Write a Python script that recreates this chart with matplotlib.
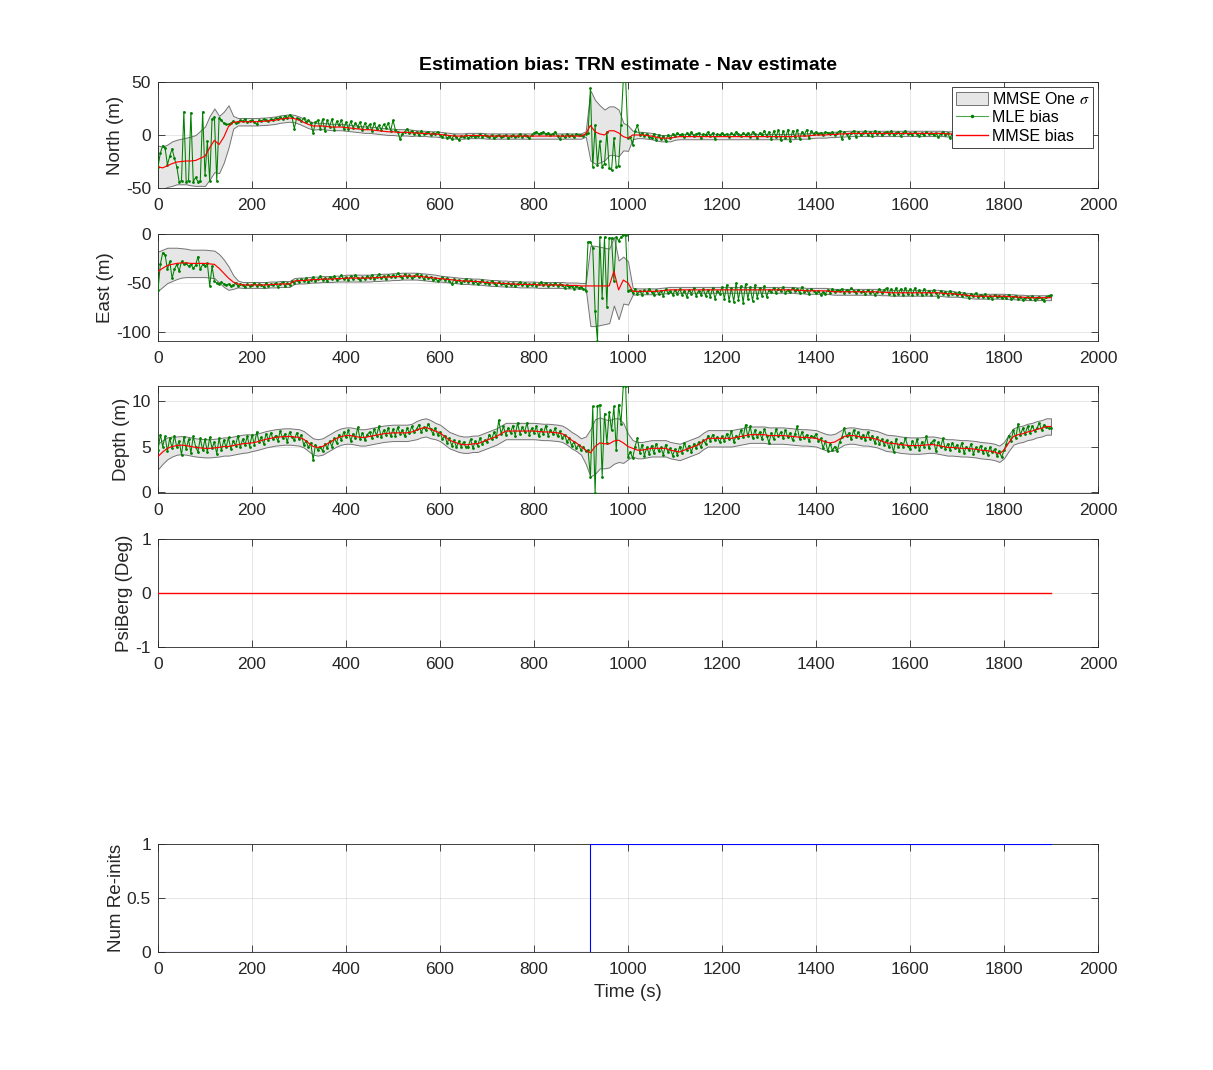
import numpy as np
import matplotlib
matplotlib.use("Agg")
import matplotlib.pyplot as plt
from matplotlib.lines import Line2D
from matplotlib.patches import Patch

plt.rcParams['font.family'] = ['Liberation Sans', 'DejaVu Sans']
plt.rcParams['axes.unicode_minus'] = False
plt.rcParams['mathtext.fontset'] = 'stix'

# ---------------- data ----------------
t_mle = np.arange(0, 1901, 5)    # MLE samples every 5 s
t_est = np.arange(0, 1901, 10)   # MMSE / sigma samples every 10 s

north_mle = [
    -30, -17, -10, -12, -28, -20, -13, -22, -30, -44,
    -43, 22, -44, -43, 21, -44, -40, -44, -43, 22,
    -38, -6, -43, 15, 17, -43, 16, 14, 11, 10,
    10, 11, 13, 11, 12, 14, 13, 15, 12, 13,
    14, 12, 10, 14, 13, 15, 14, 13, 15, 14,
    16, 15, 17, 15, 18, 16, 19, 17, 6, 16,
    15, 13, 16, 12, 14, 11, 2, 12, 14, 6,
    15, 4, 14, 8, 15, 5, 13, 9, 14, 6,
    12, 6, 13, 7, 11, 8, 12, 5, 11, 7,
    10, 4, 11, 6, 9, 5, 10, 7, 11, 4,
    14, 5, 3, -4, 1, 3, 6, 2, 4, 1,
    3, 0, 4, 1, 2, 3, 0, 2, 1, 3,
    0, -2, 1, -3, -1, -4, 0, -2, -5, -1,
    -2, 0, -3, -1, 0, -2, -1, 1, -2, 0,
    -1, -2, 0, -3, -1, 0, -2, -1, 0, -3,
    -1, 0, -2, -1, 1, -2, 0, -1, -3, 0,
    2, 3, 1, 2, 3, 1, 2, 0, 1, 3,
    -1, -4, 0, -2, 1, -1, 0, -2, 1, 0,
    0, -1, 1, 2, 44, -30, 9, -28, -6, -30,
    -27, 3, -31, -33, -3, -30, -29, 9, 52, 52,
    -3, -2, -9, 4, 9, 0, 2, -1, 1, -2,
    -3, 1, -5, 0, -4, -1, -6, 0, -3, 1,
    -1, 2, 0, 1, -2, 2, 0, 3, -1, 1,
    2, -3, 1, 0, 3, -1, 2, -4, 1, 0,
    2, 0, 1, -2, 2, 0, 3, 1, -1, 2,
    0, 2, -2, 3, 1, -3, 2, 0, 4, -1,
    3, -4, 4, -2, 5, -5, 4, -3, 5, -6,
    4, -2, 5, -4, 3, 0, 5, -3, 4, 1,
    3, 1, 2, 0, 3, 2, 1, 3, 0, 2,
    4, -4, 3, 1, -3, 2, 4, -2, 3, 0,
    2, 4, 0, 3, -1, 4, 1, 3, 0, 2,
    3, 1, 4, 0, 2, 3, -1, 2, 4, 1,
    2, 0, 3, 1, -1, 2, 0, 3, 1, 2,
    0, 2, -2, 1, 3, 0, 2, -3, 1, 0,
    -1, 1, -3, 0, 2, -2, 1, -1, 0, -2,
    0, -3, 1, -1, -4, 0, -2, 1, -1, -3,
    -1, 0, -2, 1, -1, -3, 0, -2, 1, -1,
    0, -2, -1, 1, -3, 0, -1, -2, 0, -1,
    -1,
]

north_mmse = [
    -30, -31, -29, -27, -25.5, -25, -24.5, -24.5, -24, -22,
    -20, -12, -5, -9, -2, 8, 12, 12.5, 12.5, 12.5,
    12.5, 12.5, 12.8, 13, 13.5, 14, 15, 15.5, 16, 15.5,
    14, 12, 10, 8.5, 8.5, 8.5, 8, 7.5, 7.5, 7.5,
    7, 6.5, 6, 5.5, 5, 5, 4.5, 4, 3.5, 3,
    3, 2.5, 2.5, 2.5, 2, 2, 1.5, 1.5, 1, 1,
    0.5, 0, -0.5, -1, -1, -1, -0.5, -0.5, -0.5, -0.5,
    -1, -1, -1, -1, -1, -1, -1, -1, -1, -1,
    -1, -1, -1, -1, -1, -1, -1, -1, -1, -1,
    -1, 1, 9, 3, 1, 0, 4, 4, 2, -1.5,
    -3, 0, 0, 0, -0.5, -1, -2, -3, -3, -3,
    -2, -1.5, -1.5, -1.5, -1.5, -1.5, -1.5, -1.5, -1.5, -1.5,
    -1.5, -1.5, -1.5, -1.5, -1.5, -1.5, -1.5, -1.5, -1.5, -1.5,
    -1.5, -1.5, -1.5, -1.5, -1.5, -1.5, -1, -1, -1, -0.5,
    0, 0, 0, 0.5, 0.5, 1, 1, 1.5, 1.5, 1.5,
    1.5, 1.5, 1.5, 1.5, 1.5, 1.5, 1.5, 1.5, 1.5, 1.5,
    1.5, 1.5, 1.5, 1.5, 1.5, 1.5, 1.5, 1.5, 1, 1,
    0.5, 0.5, 0, 0, 0, -0.5, -0.5, -0.5, -1, -1,
    -1, -1, -1, -1, -1, -1, -1, -1, -1, -1,
    -1,
]

north_sigma = [
    20, 20, 20, 21, 21, 21.5, 22, 23, 24, 26,
    28, 30, 30, 27, 24, 20, 6, 3.5, 3.5, 3.5,
    3.5, 3.5, 3.5, 3.5, 3.5, 3.5, 3.5, 3.5, 3.5, 3.5,
    3.5, 3.5, 3.5, 3.5, 3, 3, 3, 3, 3, 3,
    3, 3, 3, 3, 3, 3, 3, 3, 3, 3,
    3, 3, 3, 3, 3, 2.5, 2.5, 2.5, 2.5, 2.5,
    2.5, 2.5, 2.5, 2.5, 2.5, 2.5, 2.5, 2.5, 2.5, 2.5,
    2.5, 2.5, 2.5, 2.5, 2.5, 2.5, 2.5, 2.5, 2.5, 2.5,
    2.5, 2.5, 2.5, 2.5, 2.5, 2.5, 2.5, 2.5, 2.5, 2.5,
    2.5, 2.5, 33, 30, 27, 24, 23, 23, 22, 13,
    12, 4, 3, 3, 3, 3, 3, 3, 3, 3,
    2.5, 2.5, 2.5, 2.5, 2.5, 2.5, 2.5, 2.5, 2.5, 2.5,
    2.5, 2.5, 2.5, 2.5, 2.5, 2.5, 2.5, 2.5, 2.5, 2.5,
    2.5, 2.5, 2.5, 2.5, 2.5, 2.5, 2.5, 2.5, 2.5, 2.5,
    2.5, 2.5, 2.5, 2.5, 2.5, 2.5, 2.5, 2.5, 2.5, 2.5,
    2.5, 2.5, 2.5, 2.5, 2.5, 2.5, 2.5, 2.5, 2.5, 2.5,
    2.5, 2.5, 2.5, 2.5, 2.5, 2.5, 2.5, 2.5, 2.5, 2.5,
    2.5, 2.5, 2.5, 2.5, 2.5, 2.5, 2.5, 2.5, 2.5, 2.5,
    2.5, 2.5, 2.5, 2.5, 2.5, 2.5, 2.5, 2.5, 2.5, 2.5,
    2.5,
]

east_mle = [
    -57, -31, -19, -21, -36, -28, -45, -36, -31, -38,
    -28, -31, -30, -33, -31, -35, -32, -23, -36, -31,
    -33, -30, -53, -33, -48, -50, -51, -49, -51, -52,
    -51, -53, -52, -50, -53, -51, -52, -54, -51, -53,
    -52, -50, -53, -51, -52, -54, -50, -53, -51, -52,
    -50, -54, -51, -49, -53, -50, -52, -48, -50, -47,
    -49, -46, -48, -45, -49, -47, -44, -48, -46, -43,
    -47, -45, -48, -44, -46, -43, -47, -45, -42, -46,
    -44, -47, -43, -46, -42, -45, -47, -44, -46, -43,
    -45, -42, -46, -44, -41, -45, -43, -46, -42, -44,
    -42, -44, -40, -43, -45, -41, -44, -42, -45, -43,
    -41, -44, -42, -46, -43, -45, -44, -47, -45, -48,
    -46, -44, -47, -45, -48, -51, -46, -49, -47, -50,
    -48, -46, -49, -47, -50, -48, -51, -49, -47, -50,
    -49, -51, -48, -50, -52, -49, -51, -50, -53, -50,
    -52, -50, -53, -51, -49, -52, -50, -53, -51, -52,
    -50, -53, -51, -49, -52, -50, -53, -51, -52, -50,
    -53, -51, -52, -55, -52, -54, -53, -56, -53, -55,
    -54, -56, -58, -8, -8, -14, -79, -109, -3, -65,
    -3, -74, -4, -4, -48, -3, -7, -3, -1, -1,
    -58, -57, -60, -56, -61, -58, -62, -57, -60, -56,
    -59, -62, -57, -61, -58, -63, -56, -60, -58, -62,
    -57, -61, -56, -62, -58, -64, -57, -61, -55, -63,
    -58, -62, -56, -63, -57, -64, -55, -66, -58, -61,
    -54, -66, -52, -68, -55, -69, -50, -67, -53, -70,
    -51, -66, -54, -68, -52, -65, -55, -63, -53, -64,
    -57, -59, -55, -60, -56, -58, -54, -60, -57, -59,
    -55, -58, -56, -60, -54, -59, -57, -61, -56, -58,
    -60, -58, -62, -59, -61, -57, -60, -56, -59, -57,
    -58, -56, -60, -57, -59, -55, -58, -60, -57, -59,
    -58, -61, -57, -60, -58, -62, -59, -56, -60, -57,
    -55, -61, -56, -62, -55, -61, -56, -62, -55, -61,
    -56, -62, -55, -61, -57, -62, -56, -61, -58, -62,
    -57, -60, -64, -58, -61, -59, -62, -58, -61, -60,
    -62, -59, -63, -60, -62, -65, -61, -63, -60, -64,
    -62, -64, -61, -65, -63, -66, -62, -64, -63, -65,
    -63, -65, -62, -66, -64, -63, -66, -64, -67, -65,
    -64, -66, -63, -67, -65, -64, -66, -68, -64, -63,
    -62,
]

east_mmse = [
    -38, -35, -32, -31, -30, -29.5, -29.5, -30, -30, -30,
    -30, -30.5, -31, -35, -40, -45, -49, -51, -52, -52,
    -52, -52, -52, -52, -51.5, -51.5, -51, -51, -51, -48,
    -47.5, -47.5, -47, -46.5, -46.5, -46, -46, -46, -45.5, -45.5,
    -45, -45, -45, -45, -45, -45, -44.5, -44.5, -44, -44,
    -43.5, -43.5, -43, -43, -43, -43, -43.5, -44, -44.5, -45,
    -45.5, -46, -46.5, -47, -47.5, -48, -48, -48.5, -48.5, -49,
    -49.5, -50, -50, -50.5, -50.5, -51, -51, -51.5, -51.5, -51.5,
    -51.5, -52, -52, -52, -52, -52, -52, -52.5, -52.5, -52.5,
    -53, -53, -53, -53, -53, -53, -53, -38, -57, -47,
    -50, -58.5, -58.5, -58.5, -58.5, -58.5, -58.5, -58, -57.5, -57,
    -57, -57, -57, -57, -57, -57, -57, -57, -57, -57,
    -57, -57, -57, -57, -57, -57, -57, -57, -57, -57,
    -57, -57, -57, -57, -57, -57, -57.5, -57.5, -58, -58,
    -58, -58, -58, -58.5, -59, -59, -59, -59, -59, -59,
    -59, -59, -59, -59, -59.5, -59.5, -60, -60, -60, -60,
    -60, -60, -60, -60, -60, -60, -60, -60.5, -61, -61,
    -61.5, -62, -62.5, -63, -63.5, -63.5, -63.5, -63.5, -63.5, -63.5,
    -63.5, -64, -64, -64.5, -64.5, -65, -65, -65, -65, -65,
    -65,
]

east_sigma = [
    20, 19, 18, 17, 16, 15, 14.5, 14, 14, 14,
    14, 14, 14, 14.5, 14, 12, 7, 3.5, 3, 3,
    3, 3, 3, 3, 3, 3, 3, 3, 3, 3,
    3, 3, 3, 3, 3, 3, 3, 3, 3, 3,
    3.5, 3.5, 3.5, 3.5, 3.5, 3.5, 3.5, 3.5, 3.5, 3.5,
    3.5, 3.5, 3.5, 3.5, 3.5, 3.5, 3.5, 3.5, 3.5, 3.5,
    3, 3, 3, 3, 3, 3, 3, 3, 3, 3,
    3, 3, 3, 3, 3, 3, 3, 3, 3, 3,
    3, 3, 3, 3, 3, 3, 3, 3, 3, 3,
    3, 3, 41, 41, 40, 39, 38, 35, 30, 24,
    22, 3.5, 3, 3, 3, 3, 3, 3, 3, 3,
    3, 3, 3, 3, 3, 3, 3, 3, 3, 3,
    3, 3, 3, 3, 3, 3, 3, 3, 3, 3,
    3, 3, 3, 3, 3, 3, 3, 3, 3, 3,
    3, 3, 3, 3, 3, 3, 3, 3, 3, 3,
    3, 3, 3, 3, 3, 3, 3, 3, 3, 3,
    3, 3, 3, 3, 3, 3, 3, 3, 3, 3,
    2.5, 2.5, 2.5, 2.5, 2.5, 2.5, 2.5, 2.5, 2.5, 2.5,
    2.5, 2.5, 2.5, 2.5, 2.5, 2.5, 2.5, 2.5, 2.5, 2.5,
    2.5,
]

depth_mle = [
    4.6, 6.3, 5.0, 6.1, 4.5, 5.9, 4.8, 6.2, 4.9, 5.6,
    4.1, 6.0, 4.7, 5.8, 4.3, 6.1, 5.0, 4.4, 5.9, 4.6,
    5.8, 4.4, 6.0, 4.8, 5.5, 4.2, 5.9, 4.6, 5.7, 4.9,
    6.0, 4.7, 5.6, 5.1, 6.2, 4.9, 5.8, 5.2, 6.1, 5.0,
    6.3, 5.2, 6.6, 5.5, 6.0, 5.3, 6.4, 5.7, 6.5, 5.8,
    6.2, 5.6, 6.7, 5.9, 6.4, 5.5, 6.6, 6.0, 5.7, 6.5,
    5.8, 6.3, 5.2, 5.6, 4.9, 5.4, 3.5, 5.2, 4.6, 5.0,
    4.5, 5.3, 4.8, 5.6, 5.0, 5.9, 5.4, 6.3, 5.7, 6.6,
    6.0, 6.8, 5.6, 6.4, 5.9, 7.1, 5.8, 6.5, 5.7, 6.3,
    6.6, 5.9, 6.9, 6.2, 7.2, 6.0, 6.8, 6.3, 7.0, 6.1,
    6.9, 6.2, 7.1, 6.4, 6.8, 6.1, 7.0, 6.5, 7.2, 6.6,
    6.9, 7.4, 6.6, 7.1, 6.8, 7.5, 6.9, 6.4, 7.0, 6.3,
    6.6, 5.8, 6.2, 5.4, 5.9, 5.1, 5.7, 4.9, 5.6, 5.0,
    5.5, 4.9, 5.0, 5.8, 4.8, 5.6, 5.1, 5.9, 5.3, 5.7,
    5.5, 6.3, 5.8, 6.6, 6.0, 7.9, 6.4, 7.2, 6.3, 7.0,
    6.5, 7.3, 6.2, 7.6, 6.4, 7.1, 6.6, 7.6, 6.3, 7.0,
    6.5, 7.2, 6.1, 6.9, 6.4, 7.3, 6.2, 6.8, 6.4, 7.0,
    6.1, 6.7, 5.9, 6.3, 5.5, 5.9, 5.1, 5.5, 4.8, 5.2,
    4.6, 5.0, 4.5, 4.6, 1.7, 9.4, -0.1, 9.4, 9.6, 1.7,
    8.6, 5.4, 8.8, 6.8, 9.4, 4.6, 9.6, 7.5, 11.7, 11.7,
    3.9, 4.4, 3.7, 5.0, 5.9, 4.3, 5.2, 4.0, 4.9, 4.2,
    5.1, 4.3, 5.3, 4.5, 4.9, 4.1, 5.2, 4.4, 4.8, 4.0,
    4.7, 4.1, 5.0, 4.3, 5.4, 4.6, 5.1, 4.4, 5.3, 4.8,
    5.5, 4.9, 5.7, 5.3, 6.2, 5.6, 6.3, 5.7, 6.0, 5.5,
    6.1, 5.6, 6.4, 5.8, 6.7, 5.5, 6.2, 5.9, 6.8, 6.0,
    7.4, 6.1, 7.2, 5.9, 6.8, 6.0, 6.6, 5.8, 6.9, 6.2,
    5.4, 6.5, 5.8, 6.9, 6.1, 6.6, 5.9, 6.8, 6.0, 6.5,
    5.7, 6.4, 7.2, 5.8, 6.6, 5.9, 6.3, 5.6, 6.2, 6.0,
    6.4, 5.6, 5.9, 4.8, 5.6, 4.5, 5.3, 4.6, 5.0, 4.5,
    5.5, 6.0, 7.0, 6.1, 6.5, 5.8, 6.8, 6.0, 6.6, 5.9,
    6.3, 5.7, 6.6, 5.8, 6.2, 5.4, 6.0, 5.3, 5.8, 5.2,
    5.7, 4.9, 5.5, 4.4, 5.8, 4.9, 5.4, 5.0, 5.9, 5.1,
    4.7, 5.6, 4.9, 5.8, 4.6, 5.5, 5.0, 6.1, 4.8, 5.4,
    5.7, 4.5, 5.5, 4.9, 5.9, 4.7, 5.3, 4.6, 5.4, 4.8,
    5.2, 4.5, 5.4, 4.3, 5.0, 4.6, 5.3, 4.2, 4.9, 4.5,
    5.1, 4.3, 4.8, 4.1, 4.9, 4.4, 4.7, 4.0, 4.5, 3.8,
    4.6, 5.3, 6.2, 5.6, 6.8, 5.9, 7.5, 6.3, 7.0, 6.4,
    7.2, 6.5, 7.3, 6.7, 7.0, 7.6, 6.8, 7.4, 7.1, 7.0,
    7.0,
]

depth_mmse = [
    3.9, 4.4, 4.8, 5.0, 5.1, 5.15, 5.1, 5.0, 4.9, 4.85,
    4.8, 4.8, 4.85, 4.9, 5.0, 5.0, 5.1, 5.2, 5.3, 5.35,
    5.4, 5.5, 5.65, 5.8, 5.9, 6.0, 6.05, 6.1, 6.1, 6.05,
    6.0, 5.8, 5.4, 5.0, 4.9, 5.0, 5.3, 5.6, 5.9, 6.1,
    6.2, 6.2, 6.1, 6.0, 6.0, 6.1, 6.2, 6.3, 6.4, 6.45,
    6.5, 6.5, 6.5, 6.5, 6.6, 6.8, 7.0, 7.1, 6.9, 6.7,
    6.5, 6.1, 5.7, 5.5, 5.3, 5.2, 5.2, 5.3, 5.3, 5.5,
    5.7, 5.9, 6.1, 6.4, 6.7, 6.7, 6.7, 6.7, 6.7, 6.7,
    6.7, 6.65, 6.6, 6.6, 6.55, 6.5, 6.4, 6.1, 5.7, 5.4,
    5.0, 4.6, 4.3, 5.0, 5.4, 5.3, 5.3, 5.6, 5.7, 5.4,
    5.0, 4.8, 4.6, 4.6, 4.7, 4.8, 4.8, 4.8, 4.8, 4.6,
    4.5, 4.4, 4.6, 4.8, 5.0, 5.2, 5.6, 5.9, 5.9, 5.9,
    5.9, 5.9, 5.9, 6.0, 6.1, 6.2, 6.3, 6.3, 6.3, 6.3,
    6.2, 6.2, 6.2, 6.2, 6.15, 6.1, 6.05, 6.0, 6.0, 5.95,
    5.9, 5.7, 5.5, 5.4, 5.5, 5.8, 6.1, 6.2, 6.2, 6.1,
    6.0, 6.0, 5.9, 5.8, 5.6, 5.4, 5.35, 5.3, 5.2, 5.15,
    5.1, 5.1, 5.1, 5.15, 5.2, 5.2, 5.1, 5.0, 4.9, 4.9,
    4.85, 4.8, 4.8, 4.75, 4.7, 4.6, 4.55, 4.5, 4.4, 4.2,
    4.6, 5.4, 6.1, 6.3, 6.4, 6.6, 6.7, 6.9, 7.0, 7.2,
    7.2,
]

depth_sigma = [
    1.4, 1.3, 1.2, 1.1, 1.0, 1.0, 1.0, 1.0, 1.0, 1.0,
    1.0, 1.0, 1.0, 1.0, 1.0, 1.0, 1.0, 1.0, 1.0, 1.0,
    0.9, 0.9, 0.9, 0.9, 0.9, 0.9, 0.9, 0.9, 0.9, 0.9,
    0.9, 0.9, 0.9, 0.9, 0.9, 0.9, 0.9, 0.9, 0.9, 0.9,
    0.9, 0.9, 0.9, 0.9, 0.9, 0.9, 0.9, 0.9, 0.9, 0.9,
    0.9, 0.9, 0.9, 0.9, 0.9, 1.0, 1.0, 1.0, 1.0, 0.9,
    0.9, 0.9, 0.9, 0.9, 0.9, 0.9, 0.9, 0.9, 0.9, 0.9,
    0.9, 0.9, 0.9, 0.9, 0.9, 0.9, 0.9, 0.9, 0.9, 0.9,
    0.9, 0.9, 0.9, 0.9, 0.9, 0.9, 0.9, 0.9, 0.9, 0.9,
    0.9, 1.5, 2.6, 3.0, 2.8, 2.7, 2.6, 2.5, 2.4, 2.2,
    1.4, 0.9, 0.9, 0.9, 0.9, 0.9, 0.9, 0.9, 0.9, 0.9,
    0.9, 0.9, 0.9, 0.9, 0.9, 0.9, 0.9, 0.9, 0.9, 0.9,
    0.9, 0.9, 0.9, 0.9, 0.9, 0.9, 0.9, 0.9, 0.9, 0.9,
    0.9, 0.9, 0.9, 0.9, 0.9, 0.9, 0.9, 0.9, 0.9, 0.9,
    0.9, 0.9, 0.9, 0.9, 0.9, 0.9, 0.9, 0.9, 0.9, 0.9,
    0.9, 0.9, 0.9, 0.9, 0.9, 0.9, 0.9, 0.9, 0.9, 0.9,
    0.9, 0.9, 0.9, 0.9, 0.9, 0.9, 0.9, 0.9, 0.9, 0.9,
    0.9, 0.9, 0.9, 0.9, 0.9, 0.9, 0.9, 0.9, 0.9, 0.9,
    0.9, 0.9, 0.9, 0.9, 0.9, 0.9, 0.9, 0.9, 0.9, 0.9,
    0.9,
]

psi_t = [0, 1900]
psi_mmse = [0, 0]

reinit_t = [0, 919, 1900]
reinit_n = [0, 1, 1]

panel_labels = ["North (m)", "East (m)", "Depth (m)", "PsiBerg (Deg)", "Num Re-inits"]
legend_labels = ["MMSE One $\\sigma$", "MLE bias", "MMSE bias"]
title_text = "Estimation bias: TRN estimate - Nav estimate"

# ---------------- style ----------------
C_AX = (0.15, 0.15, 0.15)
C_GREEN = (0.0, 0.5, 0.0)
C_RED = (1.0, 0.0, 0.0)
C_BAND = (0.9, 0.9, 0.9)
C_BANDEDGE = (0.45, 0.45, 0.45)
FS = 12.5
FS_LAB = 13.5

fig = plt.figure(figsize=(12.13, 10.70), dpi=100)
W_PX, H_PX = 1213.0, 1070.0
L, R = 158, 1098


def add_ax(top, bot):
    return fig.add_axes([L / W_PX, 1 - bot / H_PX, (R - L) / W_PX, (bot - top) / H_PX])


def style(ax):
    ax.set_xlim(0, 2000)
    ax.set_xticks(np.arange(0, 2001, 200))
    ax.grid(True, color=C_AX, alpha=0.13, lw=0.6)
    ax.set_axisbelow(True)
    ax.tick_params(direction='in', length=5, width=0.6, top=True, right=True,
                   labelsize=FS, colors=C_AX)
    ax.tick_params(axis='x', pad=7)
    ax.tick_params(axis='y', pad=5)
    for s in ax.spines.values():
        s.set_color(C_AX)
        s.set_linewidth(0.6)


def est_panel(ax, mle, mmse, sig):
    tm = t_mle[:len(mle)]
    te = t_est[:len(mmse)]
    mm = np.asarray(mmse, float)
    sg = np.asarray(sig, float)[:len(mm)]
    ax.fill_between(te, mm - sg, mm + sg, facecolor=C_BAND, edgecolor=C_BANDEDGE,
                    lw=0.7, zorder=2)
    ax.plot(tm, mle, color=C_GREEN, lw=0.75, marker='.', ms=2.0, zorder=3)
    ax.plot(te, mm, color=C_RED, lw=0.85, zorder=4)


ax1 = add_ax(82, 188)
ax2 = add_ax(234, 341)
ax3 = add_ax(386, 493)
ax4 = add_ax(539, 647)
ax5 = add_ax(844, 952)

est_panel(ax1, north_mle, north_mmse, north_sigma)
est_panel(ax2, east_mle, east_mmse, east_sigma)
est_panel(ax3, depth_mle, depth_mmse, depth_sigma)
ax4.plot(psi_t, psi_mmse, color=C_RED, lw=1.0, zorder=4)
ax5.plot(reinit_t, reinit_n, color=(0, 0, 1), lw=0.8, drawstyle='steps-post', zorder=4)

ax1.set_ylim(-50, 50)
ax1.set_yticks([-50, 0, 50])
ax2.set_ylim(-109.2, 0)
ax2.set_yticks([-100, -50, 0])
ax3.set_ylim(-0.11, 11.65)
ax3.set_yticks([0, 5, 10])
ax4.set_ylim(-1, 1)
ax4.set_yticks([-1, 0, 1])
ax5.set_ylim(0, 1)
ax5.set_yticks([0, 0.5, 1])
ax5.set_yticklabels(["0", "0.5", "1"])

for ax, lab in zip([ax1, ax2, ax3, ax4, ax5], panel_labels):
    style(ax)
    ax.set_ylabel(lab, fontsize=FS_LAB, color=C_AX, labelpad=1.5)

ax5.set_xlabel("Time (s)", fontsize=FS_LAB, color=C_AX, labelpad=5)
ax1.set_title(title_text, fontsize=14, fontweight='bold', color='black', pad=9)

handles = [Patch(facecolor=C_BAND, edgecolor=C_BANDEDGE, lw=0.7),
           Line2D([], [], color=(0.3, 0.65, 0.3), lw=0.8, marker='.', ms=3,
                  markerfacecolor=C_GREEN, markeredgecolor=C_GREEN),
           Line2D([], [], color=C_RED, lw=1.0)]
leg = ax1.legend(handles, legend_labels, loc='upper right', fontsize=11.5, numpoints=1,
                 fancybox=False, framealpha=1, edgecolor=C_AX, borderaxespad=0.3,
                 borderpad=0.25, labelspacing=0.22, handlelength=2.0, handletextpad=0.25,
                 handleheight=0.9)
leg.get_frame().set_linewidth(0.6)
leg.set_zorder(10)

fig.savefig("out.png", dpi=100)
